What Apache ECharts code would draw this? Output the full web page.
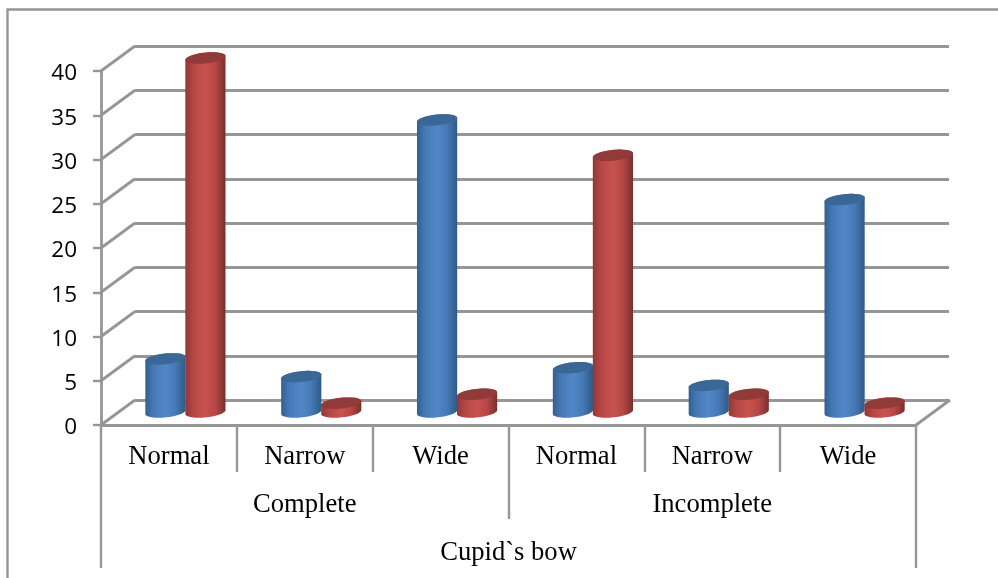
<!DOCTYPE html>
<html>
<head>
<meta charset="utf-8">
<style>html,body{margin:0;padding:0;background:#fff}#c{width:998px;height:578px}</style>
<script src="https://cdn.jsdelivr.net/npm/echarts@6/dist/echarts.min.js"></script>
</head>
<body>
<div id="c"></div>
<script>
const categories = ['Normal','Narrow','Wide','Normal','Narrow','Wide'];
const groups = ['Complete','Incomplete'];
const outerGroup = ['Cupid`s bow'];
const blueValues = [6,4,33,5,3,24];
const redValues = [40,1,2,29,2,1];

const GRAY = '#969696';
const DEPTH_X = 34, DEPTH_Y = 25;
const SERIF = '"Liberation Serif","Times New Roman",serif';

function gradient(edgeL, mid, edgeR){
  return {type:'linear',x:0,y:0,x2:1,y2:0,colorStops:[
    {offset:0,color:edgeL},{offset:0.2,color:mid[0]},{offset:0.5,color:mid[1]},
    {offset:0.75,color:mid[0]},{offset:1,color:edgeR}]};
}
const blueBody = gradient('#31608f',['#4679b5','#5287c8'],'#2e5987');
const redBody = gradient('#8f3836',['#b54745','#c9524f'],'#7a2e2c');
const blueTop = '#3b6797', redTop = '#913a3a';

function cylinder(dir, body, top){
  return function(params, api){
    const idx = api.value(0), v = api.value(1);
    const base = api.coord([idx,0]), head = api.coord([idx,v]);
    const rx = 20.2, ry = 5.4, th = -6*Math.PI/180;
    const cx = base[0] + DEPTH_X/2 + dir*20 - 0.5;
    const by = base[1] - DEPTH_Y/2 - 0.5, ty = head[1] - DEPTH_Y/2 - 0.5;
    const pt = (t,cy)=>[cx + rx*Math.cos(t)*Math.cos(th) - ry*Math.sin(t)*Math.sin(th),
                        cy + rx*Math.cos(t)*Math.sin(th) + ry*Math.sin(t)*Math.cos(th)];
    const pts = [];
    for(let i=0;i<=40;i++) pts.push(pt(Math.PI*i/40,by));
    for(let i=0;i<=40;i++) pts.push(pt(Math.PI+Math.PI*i/40,ty));
    const cap = [];
    for(let i=0;i<72;i++) cap.push(pt(2*Math.PI*i/72,ty));
    return {type:'group',children:[
      {type:'polygon',shape:{points:pts},style:{fill:body}},
      {type:'polygon',shape:{points:cap},style:{fill:top}}
    ]};
  };
}

const depthLines = function(params, api){
  const cs = params.coordSys;
  const v = api.value(0);
  const y = api.coord([0,v])[1];
  return {type:'line',shape:{x1:cs.x,y1:y,x2:cs.x+DEPTH_X,y2:y-DEPTH_Y},style:{stroke:GRAY,lineWidth:2.8}};
};
const floorEdge = function(params, api){
  const cs = params.coordSys;
  const y = api.coord([0,0])[1];
  const xr = cs.x+cs.width;
  return {type:'line',shape:{x1:xr,y1:y,x2:xr+DEPTH_X,y2:y-DEPTH_Y},style:{stroke:GRAY,lineWidth:2.8}};
};
const ticks = [0,5,10,15,20,25,30,35,40];
const xLabel = m => ({interval:0,color:'#000',fontFamily:SERIF,fontSize:26.6,margin:m});

const chart = echarts.init(document.getElementById('c'),null,{renderer:'canvas'});
chart.setOption({
  animation:false,
  backgroundColor:'#fff',
  graphic:[{type:'polyline',z:0,silent:true,
    shape:{points:[[7.5,578],[7.5,9.5],[998,9.5]]},style:{stroke:GRAY,lineWidth:2.4,fill:null}}],
  grid:[
    {left:101,top:71,width:815,height:354},
    {left:135,top:46,width:814,height:354}
  ],
  xAxis:[
    {type:'category',gridIndex:0,data:categories,position:'bottom',
      axisLine:{lineStyle:{color:GRAY,width:2.8}},
      axisTick:{show:true,length:47,lineStyle:{color:GRAY,width:2.4}},
      axisLabel:xLabel(19)},
    {type:'category',gridIndex:0,data:groups,position:'bottom',offset:47,
      axisLine:{show:false},
      axisTick:{show:true,length:47,lineStyle:{color:GRAY,width:2.4}},
      axisLabel:xLabel(20)},
    {type:'category',gridIndex:0,data:outerGroup,position:'bottom',offset:94,
      axisLine:{show:false},
      axisTick:{show:true,length:49,lineStyle:{color:GRAY,width:2.4}},
      axisLabel:xLabel(21)},
    {type:'category',gridIndex:1,data:categories,show:false}
  ],
  yAxis:[
    {type:'value',gridIndex:0,min:0,max:40,interval:5,
      axisLine:{show:true,lineStyle:{color:GRAY,width:2.8}},
      axisTick:{show:true,length:8,lineStyle:{color:GRAY,width:2.4}},
      splitLine:{show:false},
      axisLabel:{margin:24,formatter:'{v|{value}}',
        rich:{v:{color:'#000',fontFamily:'"Open Sans",sans-serif',fontSize:22.5,padding:[6,0,0,0]}}}},
    {type:'value',gridIndex:1,min:0,max:40,interval:5,
      axisLine:{show:false},axisTick:{show:false},axisLabel:{show:false},
      splitLine:{show:true,lineStyle:{color:GRAY,width:2.8}}}
  ],
  series:[
    {type:'custom',name:'depth',xAxisIndex:0,yAxisIndex:0,silent:true,z:1,clip:false,
      renderItem:depthLines,encode:{y:0},data:ticks.map(t=>[t])},
    {type:'custom',name:'floor',xAxisIndex:0,yAxisIndex:0,silent:true,z:1,clip:false,
      renderItem:floorEdge,data:[[0]]},
    {type:'custom',name:'Series 1',xAxisIndex:0,yAxisIndex:0,z:3,clip:false,
      renderItem:cylinder(-1,blueBody,blueTop),encode:{x:0,y:1},
      data:blueValues.map((v,i)=>[i,v])},
    {type:'custom',name:'Series 2',xAxisIndex:0,yAxisIndex:0,z:4,clip:false,
      renderItem:cylinder(1,redBody,redTop),encode:{x:0,y:1},
      data:redValues.map((v,i)=>[i,v])}
  ]
});
</script>
</body>
</html>
